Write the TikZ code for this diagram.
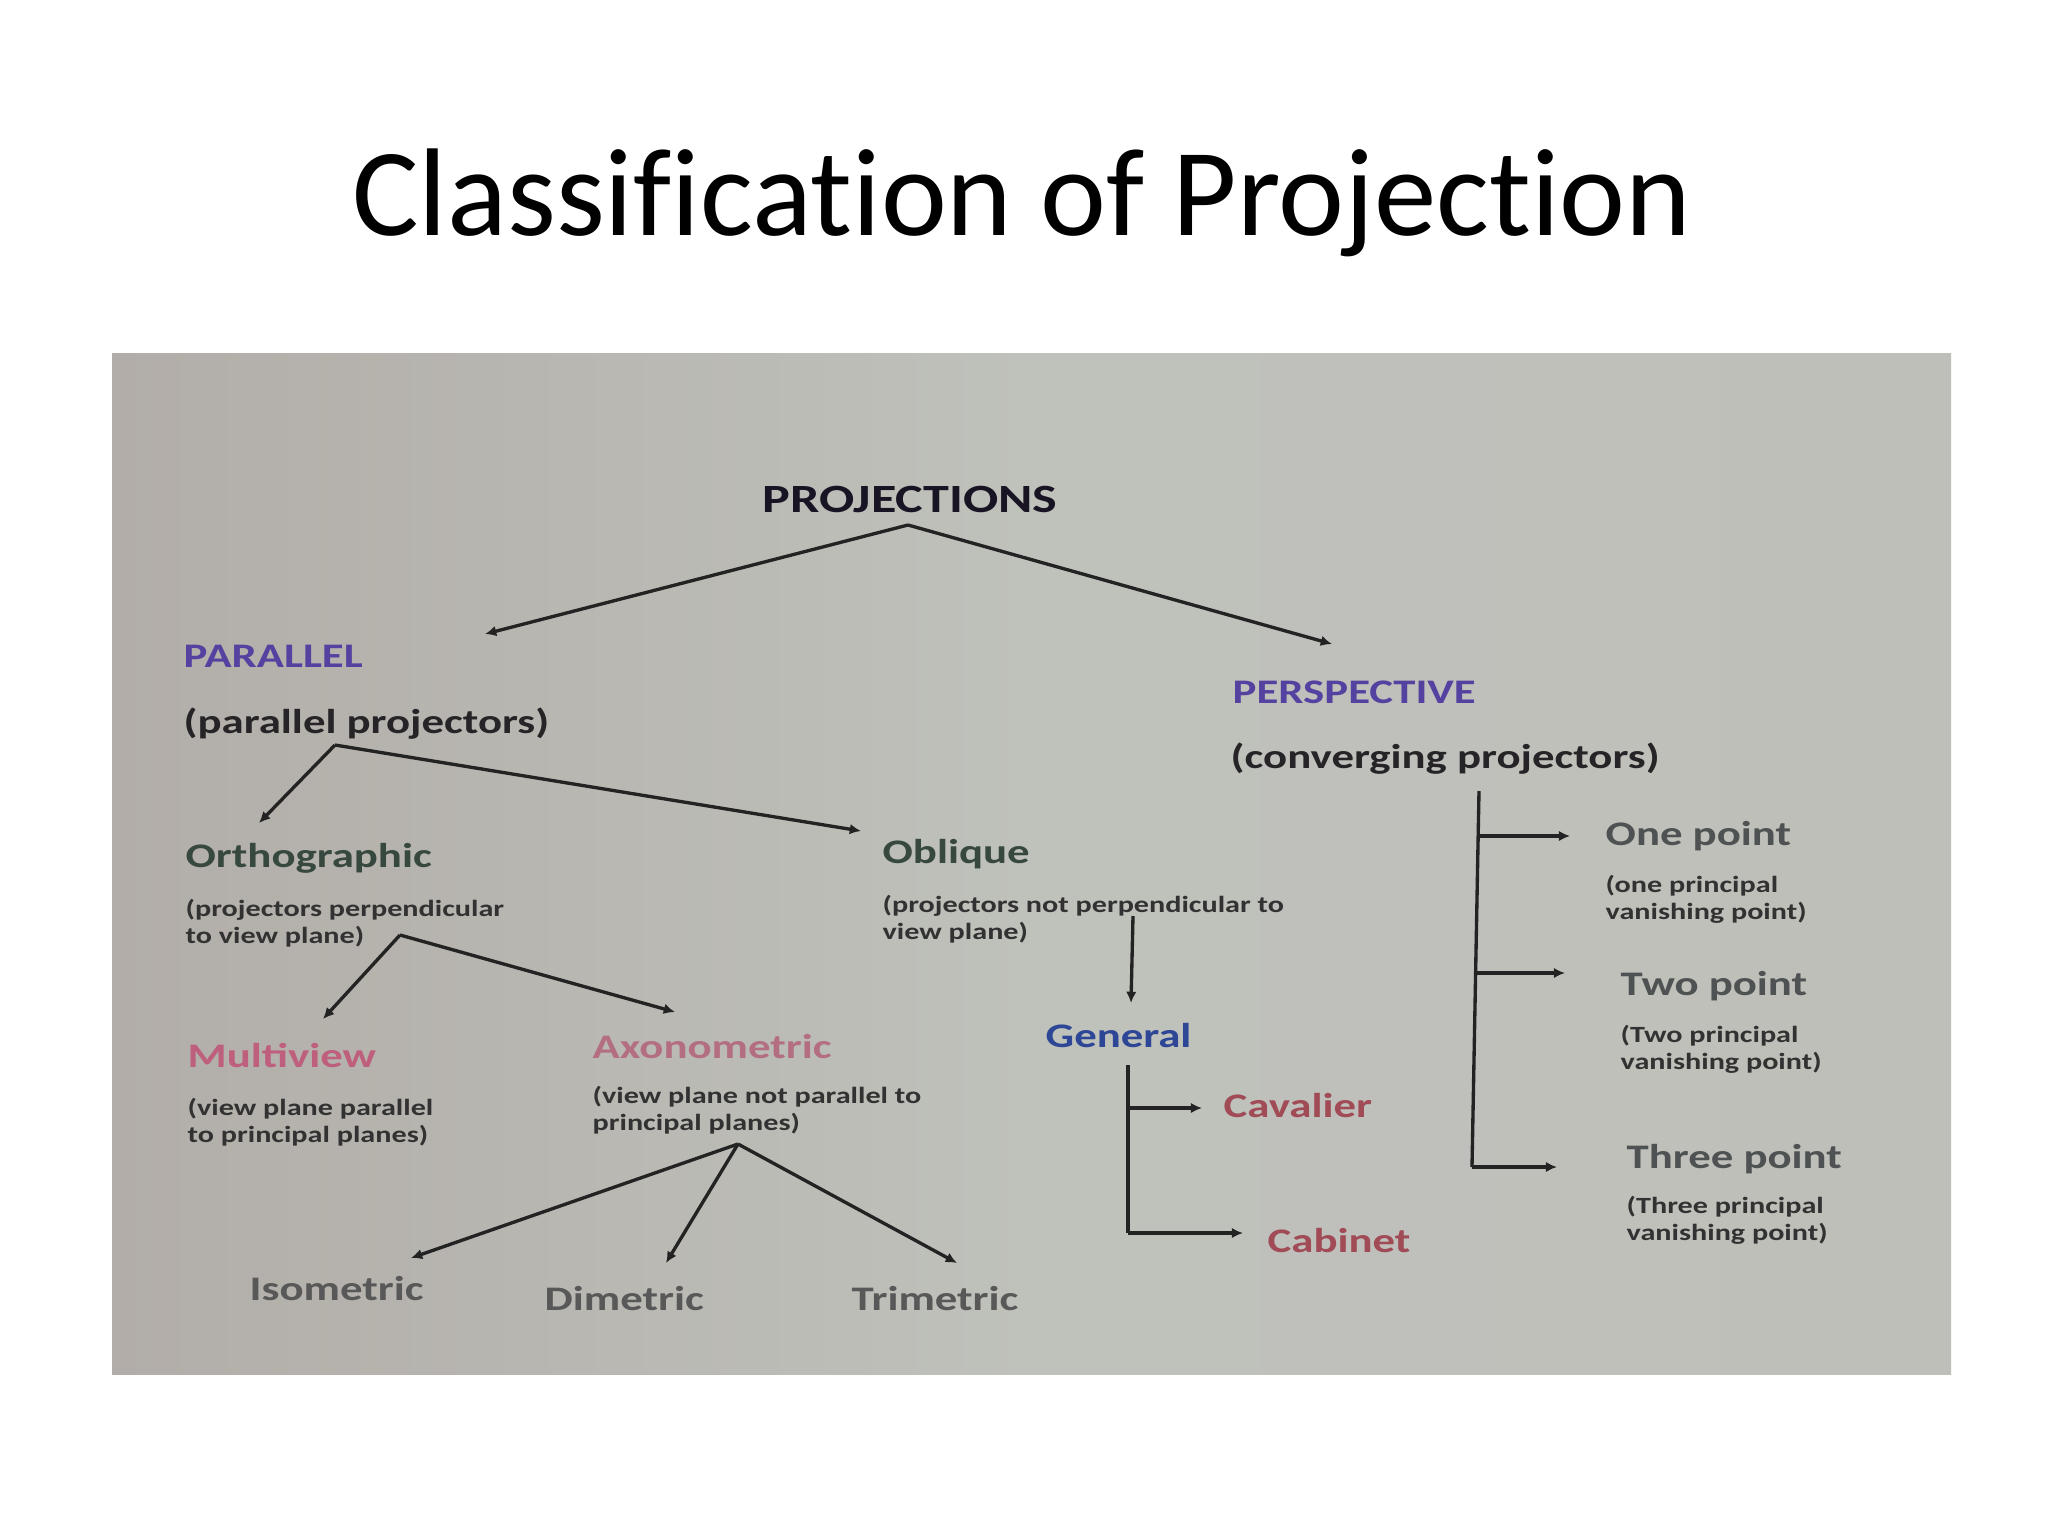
\documentclass[tikz,border=0pt]{standalone}
\usepackage{fontspec}
\setmainfont{Carlito}[Ligatures=NoCommon]
\newfontfamily\dia[FakeStretch=1.3]{Carlito}
\usetikzlibrary{arrows.meta}
\definecolor{linec}{RGB}{35,35,35}
\definecolor{projc}{RGB}{25,20,35}
\definecolor{purp}{RGB}{85,65,160}
\definecolor{darkt}{RGB}{38,36,38}
\definecolor{greent}{RGB}{55,72,62}
\definecolor{smallc}{RGB}{50,50,50}
\definecolor{pinkm}{RGB}{190,95,125}
\definecolor{pinka}{RGB}{180,110,130}
\definecolor{bluet}{RGB}{45,70,150}
\definecolor{redt}{RGB}{160,75,85}
\definecolor{grayt}{RGB}{78,82,82}
\definecolor{grayb}{RGB}{88,88,88}
\definecolor{bgl}{RGB}{178,173,168}
\definecolor{bgm}{RGB}{191,193,187}
\definecolor{bgr}{RGB}{191,191,186}
\newcommand{\twoline}[2]{\vtop{\baselineskip=7.7pt\hbox{#1}\hbox{#2}}}
\begin{document}
\begin{tikzpicture}[x=0.01cm,y=-0.01cm,
  lbl/.style={inner sep=0pt, anchor=base west, font=\dia\bfseries\fontsize{9.8}{11}\selectfont},
  sml/.style={inner sep=0pt, anchor=base west, text=smallc, font=\dia\bfseries\fontsize{6.6}{7.7}\selectfont},
  conn/.style={draw=linec, line width=0.95pt, -{Latex[length=3.2pt,width=3pt]}},
  seg/.style={draw=linec, line width=0.95pt}]
\useasboundingbox (0,0) rectangle (2048,1536);
\fill[white] (0,0) rectangle (2048,1536);
\shade[left color=bgl, right color=bgr, middle color=bgm] (112,353) rectangle (1951,1374);

\node[inner sep=0pt, anchor=base, font=\fontsize{35.5}{40}\selectfont] (title) at (1022,235) {Classification of Projection};

\node[inner sep=0pt, anchor=base, text=projc, font=\dia\bfseries\fontsize{11.4}{13}\selectfont] (proj) at (910,512) {PROJECTIONS};

\node[lbl, text=purp] (par) at (183,667) {PARALLEL};
\node[lbl, text=darkt] (parsub) at (183,733) {(parallel projectors)};
\node[lbl, text=purp] (per) at (1232,703) {PERSPECTIVE};
\node[lbl, text=darkt] (persub) at (1230,768) {(converging projectors)};

\node[lbl, text=greent] (ort) at (185,867) {Orthographic};
\node[sml] (ortsub) at (185,916) {\twoline{(projectors perpendicular}{to view plane)}};
\node[lbl, text=greent] (obl) at (882,863) {Oblique};
\node[sml] (oblsub) at (882,912) {\twoline{(projectors not perpendicular to}{view plane)}};

\node[lbl, text=pinkm] (mul) at (187,1067) {Multiview};
\node[sml] (mulsub) at (187,1115) {\twoline{(view plane parallel}{to principal planes)}};
\node[lbl, text=pinka] (axo) at (592,1058) {Axonometric};
\node[sml] (axosub) at (592,1103) {\twoline{(view plane not parallel to}{principal planes)}};

\node[lbl, text=grayb] (iso) at (249,1300) {Isometric};
\node[lbl, text=grayb] (dim) at (544,1310) {Dimetric};
\node[lbl, text=grayb] (tri) at (851,1310) {Trimetric};

\node[lbl, text=bluet] (gen) at (1045,1047) {General};
\node[lbl, text=redt] (cav) at (1223,1117) {Cavalier};
\node[lbl, text=redt] (cab) at (1267,1252) {Cabinet};

\node[lbl, text=grayt] (one) at (1605,845) {One point};
\node[sml] (onesub) at (1605,892) {\twoline{(one principal}{vanishing point)}};
\node[lbl, text=grayt] (two) at (1620,995) {Two point};
\node[sml] (twosub) at (1620,1042) {\twoline{(Two principal}{vanishing point)}};
\node[lbl, text=grayt] (thr) at (1626,1168) {Three point};
\node[sml] (thrsub) at (1626,1213) {\twoline{(Three principal}{vanishing point)}};

% connector coordinates
\coordinate (ap0) at (908,525);
\coordinate (parin) at (485,634);
\coordinate (perin) at (1332,644);
\coordinate (ap1) at (335,745);
\coordinate (ortin) at (259,823);
\coordinate (oblin) at (861,831);
\coordinate (ap2) at (400,935);
\coordinate (mulin) at (323,1019);
\coordinate (axoin) at (675,1012);
\coordinate (oblout) at (1133,916);
\coordinate (genin) at (1131,1003);
\coordinate (gtop) at (1128,1065);
\coordinate (gmid) at (1128,1108);
\coordinate (gbot) at (1128,1233);
\coordinate (cavin) at (1202,1108);
\coordinate (cabin) at (1243,1233);
\coordinate (ap3) at (738,1144);
\coordinate (isoin) at (411,1258);
\coordinate (dimin) at (666,1263);
\coordinate (triin) at (957,1263);
\coordinate (ptop) at (1479,791);
\coordinate (pone) at (1478,836);
\coordinate (ptwo) at (1476,973);
\coordinate (pbot) at (1472,1167);
\coordinate (onein) at (1570,836);
\coordinate (twoin) at (1565,973);
\coordinate (thrin) at (1557,1167);

\draw[conn] (ap0) -- (parin);
\draw[conn] (ap0) -- (perin);
\draw[conn] (ap1) -- (ortin);
\draw[conn] (ap1) -- (oblin);
\draw[conn] (ap2) -- (mulin);
\draw[conn] (ap2) -- (axoin);
\draw[conn] (oblout) -- (genin);
\draw[seg] (gtop) -- (gbot);
\draw[conn] (gmid) -- (cavin);
\draw[conn] (gbot) -- (cabin);
\draw[conn] (ap3) -- (isoin);
\draw[conn] (ap3) -- (dimin);
\draw[conn] (ap3) -- (triin);
\draw[seg] (ptop) -- (pbot);
\draw[conn] (pone) -- (onein);
\draw[conn] (ptwo) -- (twoin);
\draw[conn] (pbot) -- (thrin);
\end{tikzpicture}
\end{document}
